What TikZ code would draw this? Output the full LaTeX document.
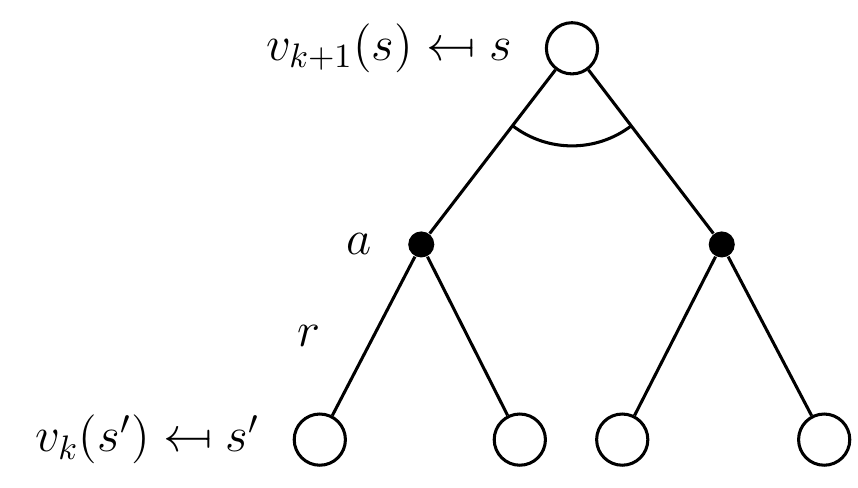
\documentclass[tikz,border=0pt]{standalone}
\usepackage{amsmath,amssymb}
\usepackage{graphicx}
\usepackage{tikz}
\usetikzlibrary{positioning}

\newcommand{\backfrom}{\mathrel{\reflectbox{$\mapsto$}}}

\begin{document}
\begin{tikzpicture}[
    every node/.style={font=\Large},
    state/.style={circle, draw, line width=0.9pt, fill=white, minimum size=0.53cm, inner sep=0pt},
    action/.style={circle, fill=black, minimum size=0.27cm, inner sep=0pt},
    edge/.style={line width=0.9pt}
]
\useasboundingbox (0,0) rectangle (8.88,5.05);
% root state and its two actions
\node[state] (s) at (5.92,4.55) {};
\node[action] (a1) at (4.36,2.52) {};
\node[action] (a2) at (7.47,2.52) {};
% successor states
\node[state] (s1) at (3.31,0.50) {};
\node[state] (s2) at (5.38,0.50) {};
\node[state] (s3) at (6.44,0.50) {};
\node[state] (s4) at (8.53,0.50) {};
% labels
\node[left=0.22cm of s] (top) {$v_{k+1}(s) \backfrom s$};
\node[left=0.22cm of s1] (bot) {$v_k(s') \backfrom s'$};
\node[left=0.25cm of a1] (alab) {$a$};
\draw[edge] (s) -- (a1);
\draw[edge] (s) -- (a2);
\draw[edge] (a1) -- node[midway, left=0.42cm] (rlab) {$r$} (s1);
\draw[edge] (a1) -- (s2);
\draw[edge] (a2) -- (s3);
\draw[edge] (a2) -- (s4);
% max arc
\draw[edge] (s.center) ++(232.6:1.01) arc (232.6:307.4:1.01);
\end{tikzpicture}
\end{document}
